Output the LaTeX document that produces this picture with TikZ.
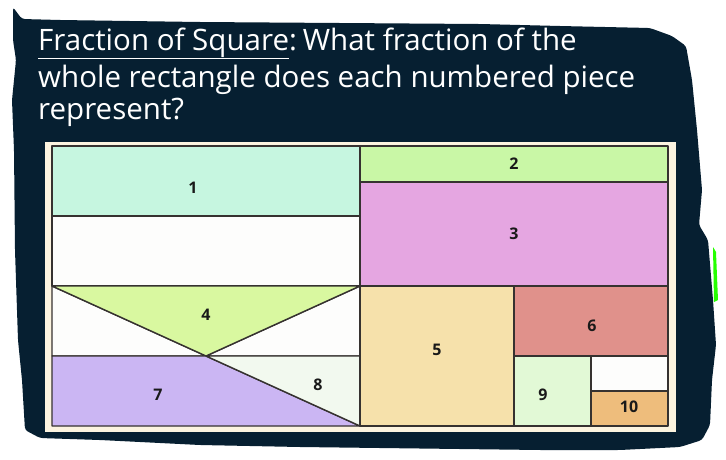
\documentclass[tikz,border=0pt]{standalone}
\usepackage{fontspec}
\setmainfont{Open Sans}
\definecolor{navy}{HTML}{061F31}
\definecolor{cream}{HTML}{FCF4E0}
\definecolor{edge}{HTML}{363230}
\definecolor{pone}{HTML}{C6F6E0}
\definecolor{ptwo}{HTML}{C9F7A6}
\definecolor{pthree}{HTML}{E5A6E1}
\definecolor{pfour}{HTML}{D9F8A0}
\definecolor{pfive}{HTML}{F6E1AB}
\definecolor{psix}{HTML}{E0918B}
\definecolor{pseven}{HTML}{CBB6F3}
\definecolor{peight}{HTML}{F2F9EF}
\definecolor{pnine}{HTML}{E2F9D6}
\definecolor{pten}{HTML}{EEBD7C}
\definecolor{blank}{HTML}{FDFDFC}
\begin{document}
\begin{tikzpicture}[x=1pt,y=-1pt,
	piece/.style={draw=edge,line width=1.4pt,line join=round},
	num/.style={font=\bfseries\fontsize{16}{16}\selectfont,text=black!90,inner sep=0pt},
	title/.style={anchor=base west,text=white,font=\fontsize{29.5}{35}\selectfont,inner sep=0pt}]
	\fill[white] (0,0) rectangle (726,459);
	\useasboundingbox (0,0) rectangle (726,459);

	% torn dark card
	\fill[navy,rounded corners=3pt] (13,7) -- (18,14) -- (22,19) -- (60,20) -- (200,22) -- (480,24) -- (560,26)
		-- (650,28) -- (672,36) -- (686,46) -- (692,80) -- (697,130) -- (702,190) -- (699,225) -- (708,240)
		-- (713,300) -- (716,345) -- (712,380) -- (710,425) -- (702,440) -- (680,447) -- (620,450) -- (540,450)
		-- (300,447) -- (200,445) -- (100,440) -- (40,438) -- (25,430) -- (22,380) -- (18,340) -- (15,250)
		-- (14,150) -- (12,100) -- (16,60) -- (13,40) -- cycle;
	\fill[green!80!lime] (713,247) -- (716,252) -- (718,300) -- (714,302) -- cycle;

	\node[title] (title1) at (38,50) {\underline{Fraction of Square}:\hspace{6pt}What fraction of the};
	\node[title] (title2) at (38,87) {whole rectangle does each numbered piece};
	\node[title] (title3) at (38,119) {represent?};

	\fill[cream] (45,142) rectangle (676,432);

	% left half
	\filldraw[piece,fill=pone] (52,146) rectangle (360,216);
	\filldraw[piece,fill=blank] (52,216) rectangle (360,286);
	\filldraw[piece,fill=blank] (52,286) -- (206,356) -- (52,356) -- cycle;
	\filldraw[piece,fill=blank] (360,286) -- (360,356) -- (206,356) -- cycle;
	\filldraw[piece,fill=pfour] (52,286) -- (360,286) -- (206,356) -- cycle;
	\filldraw[piece,fill=pseven] (52,356) -- (206,356) -- (360,426) -- (52,426) -- cycle;
	\filldraw[piece,fill=peight] (206,356) -- (360,356) -- (360,426) -- cycle;

	% right half
	\filldraw[piece,fill=ptwo] (360,146) rectangle (668,182);
	\filldraw[piece,fill=pthree] (360,182) rectangle (668,286);
	\filldraw[piece,fill=pfive] (360,286) rectangle (514,426);
	\filldraw[piece,fill=psix] (514,286) rectangle (668,356);
	\filldraw[piece,fill=pnine] (514,356) rectangle (591,426);
	\filldraw[piece,fill=blank] (591,356) rectangle (668,391);
	\filldraw[piece,fill=pten] (591,391) rectangle (668,426);

	\node[num] (n1) at (193,188) {1};
	\node[num] (n2) at (514,164) {2};
	\node[num] (n3) at (514,234) {3};
	\node[num] (n4) at (206,315) {4};
	\node[num] (n5) at (437,350) {5};
	\node[num] (n6) at (592,326) {6};
	\node[num] (n7) at (158,395) {7};
	\node[num] (n8) at (318,385) {8};
	\node[num] (n9) at (543,395) {9};
	\node[num] (n10) at (629,407) {10};
\end{tikzpicture}
\end{document}
